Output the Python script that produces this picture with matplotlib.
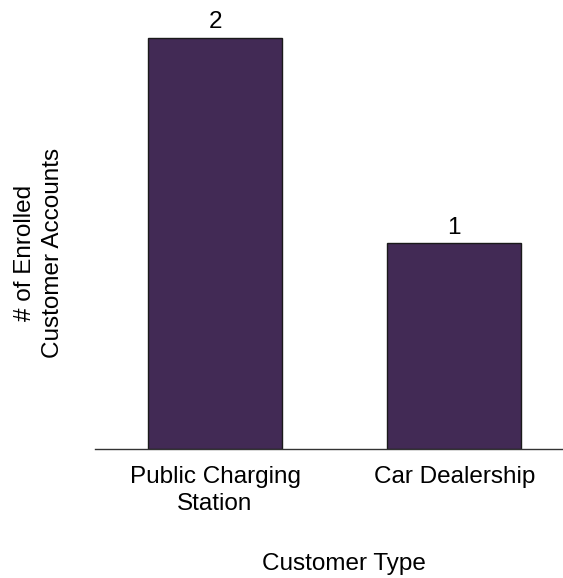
import matplotlib
matplotlib.use("Agg")
import matplotlib.pyplot as plt

categories = ["Public Charging\nStation", "Car Dealership"]
accounts = [2, 1]

plt.rcParams["font.family"] = ["Liberation Sans", "DejaVu Sans"]

W, H = 563, 578
fig = plt.figure(figsize=(W / 100, H / 100), dpi=100)

# axes box in pixels: left, bottom(from top), right, top(from top)
left_px, right_px = 95.4, 573.8
base_px, top_px = 449.0, 17.0
ax = fig.add_axes([left_px / W, 1 - base_px / H,
                   (right_px - left_px) / W, (base_px - top_px) / H])

x = range(len(categories))
bars = ax.bar(x, accounts, width=0.56, color="#422a55",
              edgecolor="#1a1a1a", linewidth=1.0)
ax.bar_label(bars, labels=[str(v) for v in accounts], padding=3, fontsize=17.5)

ax.set_xlim(-0.5, 1.5)
ax.set_ylim(0, 2.1)
ax.set_xticks(list(x))
ax.set_xticklabels(categories, fontsize=17.5, linespacing=1.3)
ax.set_yticks([])
ax.tick_params(axis="x", length=0, pad=12)

for side in ("top", "right", "left"):
    ax.spines[side].set_visible(False)
ax.spines["bottom"].set_color("#333333")
ax.spines["bottom"].set_linewidth(1.0)

ax.set_xlabel("Customer Type", fontsize=17.5)
ax.xaxis.set_label_coords((344 - left_px) / (right_px - left_px),
                          (base_px - 564) / (base_px - top_px))
ax.xaxis.label.set_verticalalignment("center")

ax.set_ylabel("# of Enrolled\nCustomer Accounts", fontsize=17.5, linespacing=1.4)
ax.yaxis.set_label_coords((39 - left_px) / (right_px - left_px),
                          (base_px - 253) / (base_px - top_px))
ax.yaxis.label.set_verticalalignment("center")

fig.savefig("out.png", dpi=100)
